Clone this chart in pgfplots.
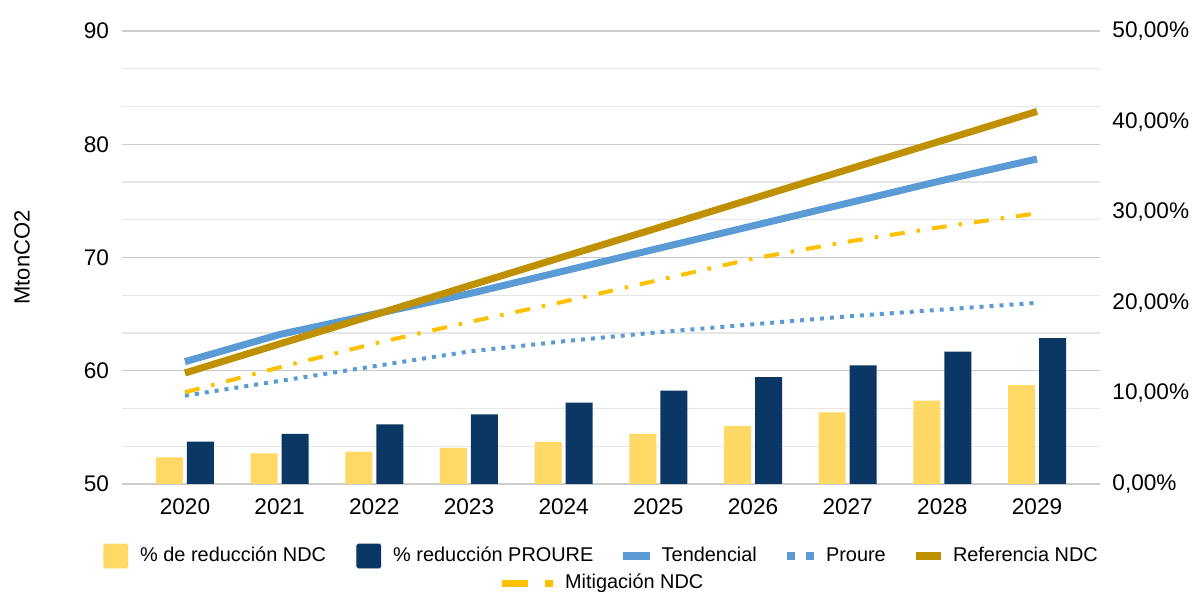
\documentclass[border=0pt]{standalone}
\usepackage{fontspec}
\setmainfont{Liberation Sans}
\usepackage{pgfplots}
\pgfplotsset{compat=1.18}
\definecolor{ndcyellow}{HTML}{FFD966}
\definecolor{prourenavy}{HTML}{0B3764}
\definecolor{tendblue}{HTML}{5B9BD5}
\definecolor{refgold}{HTML}{BF9000}
\definecolor{mitorange}{HTML}{FFC000}
\definecolor{gridmaj}{HTML}{CCCCCC}
\definecolor{gridmin}{HTML}{E6E6E6}
\pgfplotsset{
  base/.style={scale only axis, width=489pt, height=226.5pt,
    xmin=-0.665, xmax=9.665, axis line style={draw=none},
    major tick length=0pt, minor tick length=0pt, clip=false,
    ticklabel style={font=\fontsize{11.3}{13}\selectfont}},
  leg/.style={legend style={draw=none, fill=none, inner xsep=0pt, inner ysep=0pt,
    font=\fontsize{9.95}{11}\selectfont, legend columns=-1,
    legend cell align=left,
    /tikz/every odd column/.append style={column sep=4pt},
    /tikz/every even column/.append style={column sep=13.2pt}}},
}
\begin{document}
\begin{tikzpicture}
% grid, left ticks, x labels
\begin{axis}[base, ymin=50, ymax=90,
  ytick={50,60,70,80,90}, yticklabels={50,60,70,80,90},
  minor ytick={53.333,56.667,63.333,66.667,73.333,76.667,83.333,86.667},
  ymajorgrids, yminorgrids,
  major grid style={gridmaj, line width=0.7pt},
  minor grid style={gridmin, line width=0.7pt},
  xtick={0,1,2,3,4,5,6,7,8,9},
  xticklabels={2020,2021,2022,2023,2024,2025,2026,2027,2028,2029},
  yticklabel style={xshift=-3pt}, xticklabel style={yshift=-4pt},
  ylabel={MtonCO2},
  ylabel style={at={(axis description cs:-0.1022,0.5)}, anchor=center, font=\fontsize{11}{13}\selectfont}]
\end{axis}
% bars on right axis
\begin{axis}[base, leg, ymin=0, ymax=50,
  yticklabel pos=right,
  ytick={0,10,20,30,40,50},
  yticklabels={{0,00\%},{10,00\%},{20,00\%},{30,00\%},{40,00\%},{50,00\%}},
  yticklabel style={xshift=2.7pt},
  xtick=\empty,
  legend style={at={(-0.0194,-0.159)}, anchor=west}]
\addplot[ybar, bar width=13.5pt, bar shift=-7.75pt, fill=ndcyellow, draw=none, forget plot]
  coordinates {(0,2.95) (1,3.39) (2,3.57) (3,4.0) (4,4.64) (5,5.52) (6,6.4) (7,7.9) (8,9.2) (9,10.9)};
\addplot[ybar, bar width=13.5pt, bar shift=7.75pt, fill=prourenavy, draw=none, forget plot]
  coordinates {(0,4.67) (1,5.52) (2,6.59) (3,7.69) (4,8.98) (5,10.3) (6,11.8) (7,13.1) (8,14.6) (9,16.1)};
\addlegendimage{legend image code/.code={\fill[ndcyellow, rounded corners=0.8pt] (0pt,-6pt) rectangle (12pt,6pt);}}
\addlegendentry{\% de reducción NDC}
\addlegendimage{legend image code/.code={\fill[prourenavy, rounded corners=0.8pt] (0pt,-6pt) rectangle (12pt,6pt);}}
\addlegendentry{\% reducción PROURE}
\end{axis}
% lines on left axis
\begin{axis}[base, leg, ymin=50, ymax=90, hide axis,
  legend style={at={(0.5123,-0.159)}, anchor=west}]
\addplot[tendblue, line width=3.5pt, forget plot]
  coordinates {(0,60.8) (1,63.2) (2,65.0) (3,66.8) (4,68.8) (5,70.8) (6,72.8) (7,74.8) (8,76.8) (9,78.7)};
\addplot[tendblue, line width=2pt, dash pattern=on 2pt off 3pt, forget plot]
  coordinates {(0,57.8) (1,59.1) (2,60.4) (3,61.7) (4,62.6) (5,63.4) (6,64.1) (7,64.8) (8,65.4) (9,66.0)};
\addplot[refgold, line width=3.5pt, forget plot]
  coordinates {(0,59.8) (1,62.37) (2,64.93) (3,67.5) (4,70.07) (5,72.63) (6,75.2) (7,77.77) (8,80.33) (9,82.9)};
\addplot[mitorange, line width=2pt, dash pattern=on 7.5pt off 6pt on 1.75pt off 6pt, forget plot]
  coordinates {(0,58.1) (1,60.3) (2,62.4) (3,64.3) (4,66.1) (5,68.0) (6,69.9) (7,71.4) (8,72.7) (9,73.9)};
\addlegendimage{legend image code/.code={\fill[tendblue] (0pt,-1.75pt) rectangle (12.75pt,1.75pt);}}
\addlegendentry{Tendencial}
\addlegendimage{legend image code/.code={\fill[tendblue] (0pt,-1.75pt) rectangle (3.5pt,1.75pt); \fill[tendblue] (9.5pt,-1.75pt) rectangle (13pt,1.75pt);}}
\addlegendentry{Proure}
\addlegendimage{legend image code/.code={\fill[refgold] (0pt,-1.75pt) rectangle (12pt,1.75pt);}}
\addlegendentry{Referencia NDC}
\end{axis}
% legend for Mitigación
\begin{axis}[base, leg, ymin=50, ymax=90, hide axis,
  legend style={at={(0.3885,-0.2185)}, anchor=west}]
\addlegendimage{legend image code/.code={\fill[mitorange] (0pt,-1.5pt) rectangle (12.5pt,1.5pt); \fill[mitorange] (21.5pt,-1.5pt) rectangle (25pt,1.5pt);}}
\addlegendentry{Mitigación NDC}
\end{axis}
\pgfresetboundingbox
\path (-61pt,-54pt) rectangle (536.5pt,242pt);
\end{tikzpicture}
\end{document}
